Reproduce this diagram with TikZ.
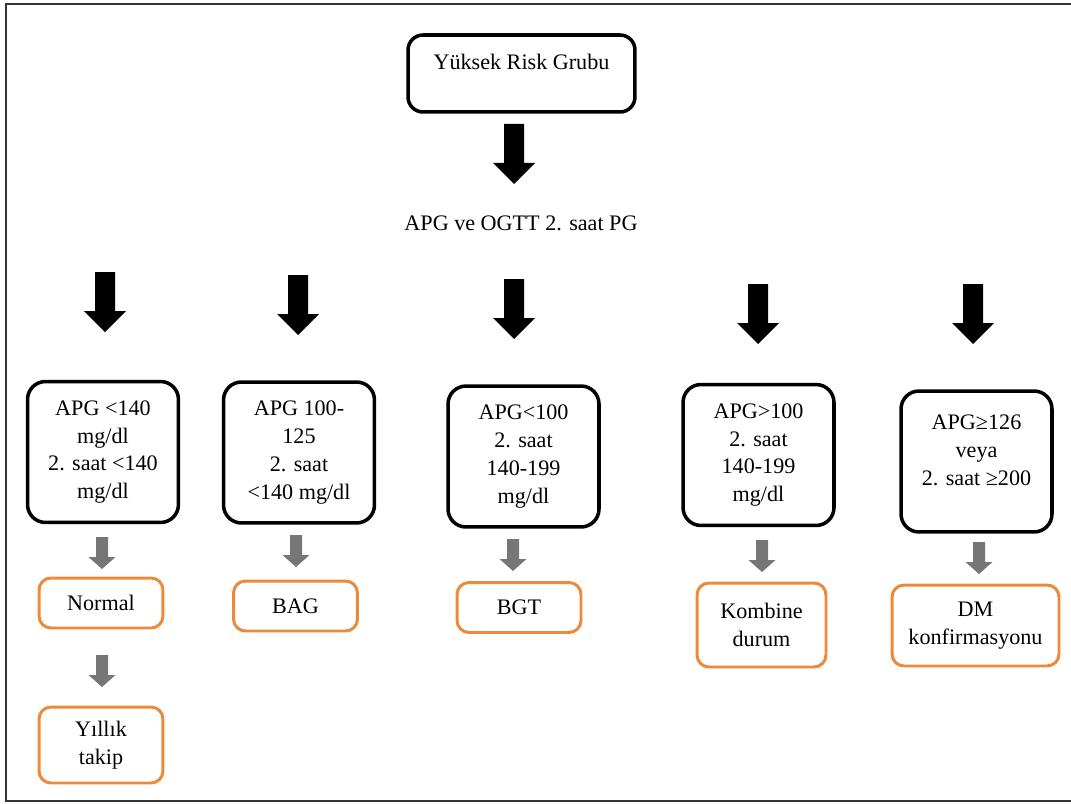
\documentclass[tikz,border=0pt]{standalone}
\usepackage{fontspec}
\setmainfont{Liberation Serif}
\usepackage{xcolor}
\usetikzlibrary{positioning, calc}

\definecolor{boxorange}{RGB}{237,137,58}
\definecolor{arrowgray}{RGB}{118,118,118}

% block arrows: x of the axis, y of the top end (pixels, y downwards)
\newcommand{\bigarrow}[2]{%
  \fill[black] (#1-10,#2) -- (#1+10,#2) -- (#1+10,#2+39) -- (#1+21,#2+39)
    -- (#1,#2+60) -- (#1-21,#2+39) -- (#1-10,#2+39) -- cycle;}
\newcommand{\smallarrow}[2]{%
  \fill[arrowgray] (#1-6,#2) -- (#1+6,#2) -- (#1+6,#2+20) -- (#1+13.5,#2+20)
    -- (#1,#2+32) -- (#1-13.5,#2+20) -- (#1-6,#2+20) -- cycle;}

\tikzset{
  txt/.style={font=\fontsize{12.6}{15.9}\selectfont, align=center},
  critbox/.style={txt, draw=black, line width=2pt, rounded corners=0.36cm,
    minimum width=3.02cm, minimum height=2.82cm, inner sep=2pt},
  resbox/.style={txt, draw=boxorange, line width=1.7pt, rounded corners=0.24cm,
    minimum width=2.48cm, inner sep=2pt},
}

\begin{document}
\begin{tikzpicture}[x=0.02cm, y=-0.02cm]
        \useasboundingbox (0,0) rectangle (1071,804);
        % Frame
        \draw[line width=1.2pt, black!80] (1075,4) -- (6,4) -- (6,801) -- (1075,801);

        % Top of the scheme
        \node[txt, draw=black, line width=2pt, rounded corners=0.3cm,
          minimum width=4.54cm, minimum height=1.54cm,
          text height=8.5pt, text depth=12.5pt] (risk) at (521.5,73.5) {Yüksek Risk Grubu};
        \bigarrow{514}{124}
        \node[txt] (test) at (521,223) {APG ve OGTT 2. saat PG};

        % Criteria
        \bigarrow{105}{272}
        \bigarrow{298}{275}
        \bigarrow{514}{279}
        \bigarrow{758}{284}
        \bigarrow{973}{284}
        \node[critbox] (normcrit) at (103,452) {APG <140\\mg/dl\\2. saat <140\\mg/dl};
        \node[critbox] (bagcrit) at (299,452.5) {APG 100-\\125\\2. saat\\<140 mg/dl};
        \node[critbox] (bgtcrit) at (523.5,456.5) {APG<100\\2. saat\\140-199\\mg/dl};
        \node[critbox] (kombcrit) at (758.5,455) {APG>100\\2. saat\\140-199\\mg/dl};
        \node[critbox, text depth=13pt] (dmcrit) at (976.5,461.5) {APG≥126\\veya\\2. saat ≥200};

        % Results
        \smallarrow{102}{537}
        \smallarrow{296}{535}
        \smallarrow{513}{539}
        \smallarrow{762}{540}
        \smallarrow{979}{542}
        \node[resbox, minimum height=1.0cm] (normal) at (101,603) {Normal};
        \node[resbox, minimum height=1.0cm] (bag) at (295.5,606) {BAG};
        \node[resbox, minimum height=1.0cm] (bgt) at (519,607.5) {BGT};
        \node[resbox, minimum width=2.58cm, minimum height=1.68cm] (komb) at (761.5,625) {Kombine\\durum};
        \node[resbox, minimum width=3.34cm, minimum height=1.62cm] (dm) at (975.5,625.5) {DM\\konfirmasyonu};

        % Follow-up
        \smallarrow{102}{655}
        \node[resbox, minimum height=1.52cm] (takip) at (101,745) {Yıllık\\takip};
\end{tikzpicture}
\end{document}
